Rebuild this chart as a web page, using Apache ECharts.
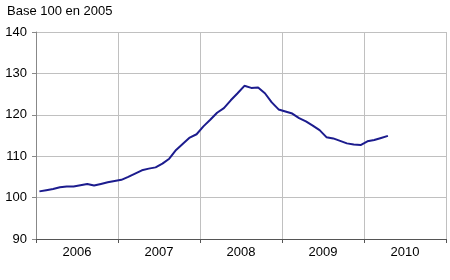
<!DOCTYPE html>
<html><head><meta charset="utf-8">
<script src="https://cdn.jsdelivr.net/npm/echarts@6/dist/echarts.min.js"></script>
<style>html,body{margin:0;padding:0;background:#fff}#c{width:450px;height:280px}</style>
</head><body><div id="c"></div>
<script>
var years = ['2006','2007','2008','2009','2010'];
var months = ['01','02','03','04','05','06','07','08','09','10','11','12'];
var yTicks = [90, 100, 110, 120, 130, 140];
var values = [
  101.5, 101.8, 102.1, 102.5, 102.7, 102.7, 103.0, 103.3, 102.9, 103.3, 103.7, 104.0,
  104.3, 105.0, 105.8, 106.6, 107.0, 107.3, 108.2, 109.4, 111.5, 113.0, 114.5, 115.3,
  117.2, 118.8, 120.5, 121.6, 123.5, 125.2, 127.0, 126.5, 126.6, 125.2, 123.0, 121.3,
  120.8, 120.3, 119.2, 118.4, 117.4, 116.3, 114.6, 114.3, 113.7, 113.1, 112.8, 112.7,
  113.6, 113.9, 114.4, 114.9
];
var monthCats = [];
years.forEach(function(y){ months.forEach(function(m){ monthCats.push(y + '-' + m); }); });

var chart = echarts.init(document.getElementById('c'));
chart.setOption({
  animation: false,
  title: { text: 'Base 100 en 2005', left: 7, top: 5, padding: 0,
    textStyle: { fontFamily: 'Liberation Sans', fontSize: 13, fontWeight: 'normal', color: '#000' } },
  grid: { left: 36, right: 4, top: 32, bottom: 41 },
  xAxis: [{
    type: 'category', data: years, boundaryGap: true, position: 'bottom',
    axisLine: { lineStyle: { color: '#555', width: 1 } },
    axisTick: { show: true, length: 4, lineStyle: { color: '#555' } },
    axisLabel: { margin: 7, fontFamily: 'Liberation Sans', fontSize: 13, color: '#000' },
    splitLine: { show: true, lineStyle: { color: '#c0c0c0', width: 1 } }
  }, {
    type: 'category', data: monthCats, boundaryGap: true, show: false
  }],
  yAxis: {
    type: 'value', min: yTicks[0], max: yTicks[yTicks.length - 1], interval: 10,
    axisLine: { show: true, lineStyle: { color: '#888' } },
    axisTick: { show: true, length: 4, lineStyle: { color: '#888' } },
    axisLabel: { margin: 9, fontFamily: 'Liberation Sans', fontSize: 13, color: '#000' },
    splitLine: { show: true, lineStyle: { color: '#c0c0c0', width: 1 } }
  },
  series: [{
    type: 'line', xAxisIndex: 1, data: values, symbol: 'none',
    lineStyle: { color: '#1c1c8e', width: 2 }
  }]
});
</script></body></html>
